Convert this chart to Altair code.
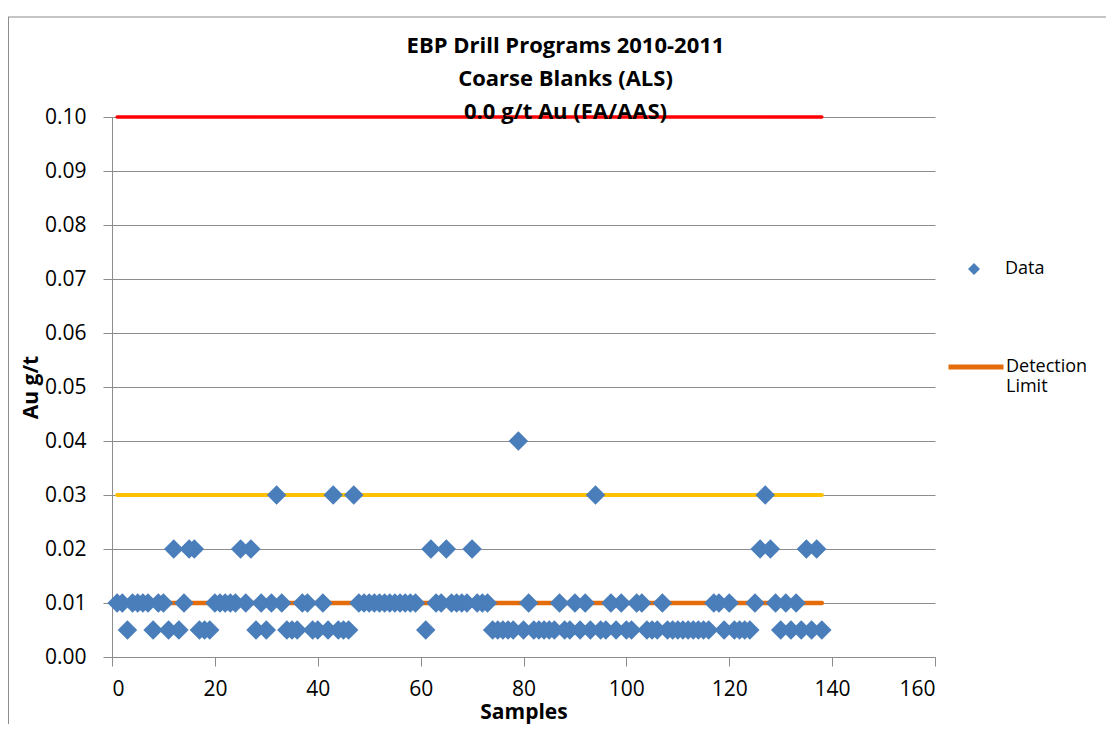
import altair as alt
import pandas as pd

FONT = "Open Sans"

# Sample numbers and Au values (g/t); None = no value plotted
samples = list(range(1, 139))
au_values = [
    0.01, 0.01, 0.005, 0.01, 0.01, 0.01, 0.01, 0.005, 0.01, 0.01,        # 1-10
    0.005, 0.02, 0.005, 0.01, 0.02, 0.02, 0.005, 0.005, 0.005, 0.01,     # 11-20
    0.01, 0.01, 0.01, 0.01, 0.02, 0.01, 0.02, 0.005, 0.01, 0.005,        # 21-30
    0.01, 0.03, 0.01, 0.005, 0.005, 0.005, 0.01, 0.01, 0.005, 0.005,     # 31-40
    0.01, 0.005, 0.03, 0.005, 0.005, 0.005, 0.03, 0.01, 0.01, 0.01,      # 41-50
    0.01, 0.01, 0.01, 0.01, 0.01, 0.01, 0.01, 0.01, 0.01, None,          # 51-60
    0.005, 0.02, 0.01, 0.01, 0.02, 0.01, 0.01, 0.01, 0.01, 0.02,         # 61-70
    0.01, 0.01, 0.01, 0.005, 0.005, 0.005, 0.005, 0.005, 0.04, 0.005,    # 71-80
    0.01, 0.005, 0.005, 0.005, 0.005, 0.005, 0.01, 0.005, 0.005, 0.01,   # 81-90
    0.005, 0.01, 0.005, 0.03, 0.005, 0.005, 0.01, 0.005, 0.01, 0.005,    # 91-100
    0.005, 0.01, 0.01, 0.005, 0.005, 0.005, 0.01, 0.005, 0.005, 0.005,   # 101-110
    0.005, 0.005, 0.005, 0.005, 0.005, 0.005, 0.01, 0.01, 0.005, 0.01,   # 111-120
    0.005, 0.005, 0.005, 0.005, 0.01, 0.02, 0.03, 0.02, 0.01, 0.005,     # 121-130
    0.01, 0.005, 0.01, 0.005, 0.02, 0.005, 0.02, 0.005,                  # 131-138
]

# Reference lines
line_x = [1, 138]
detection_y = [0.01, 0.01]
warning_y = [0.03, 0.03]
failure_y = [0.10, 0.10]

y_ticks = [0.0, 0.01, 0.02, 0.03, 0.04, 0.05, 0.06, 0.07, 0.08, 0.09, 0.10]
x_ticks = [0, 20, 40, 60, 80, 100, 120, 140, 160]

pts = pd.DataFrame({"x": samples, "y": au_values, "series": "Data"}).dropna()
det = pd.DataFrame({"x": line_x, "y": detection_y, "lname": "Detection Limit"})
warn = pd.DataFrame({"x": line_x, "y": warning_y})
fail = pd.DataFrame({"x": line_x, "y": failure_y})

xscale = alt.Scale(domain=[0, 160], nice=False, zero=False)
yscale = alt.Scale(domain=[0, 0.10], nice=False)

x_axis = alt.Axis(values=x_ticks, title="Samples", grid=False, tickSize=9,
                  labelPadding=12, titlePadding=2)
y_axis = alt.Axis(values=y_ticks, format=".2f", title="Au g/t", grid=True,
                  tickSize=9, labelPadding=17, titlePadding=3)

base_x = alt.X("x:Q", scale=xscale, axis=x_axis)
base_y = alt.Y("y:Q", scale=yscale, axis=y_axis)

red = alt.Chart(fail).mark_line(color="#FF0000", strokeWidth=3.5, strokeCap="round").encode(
    x=base_x, y=base_y)
yellow = alt.Chart(warn).mark_line(color="#FFC000", strokeWidth=4, strokeCap="round").encode(
    x="x:Q", y="y:Q")
orange = alt.Chart(det).mark_line(strokeWidth=4.5, strokeCap="round").encode(
    x="x:Q", y="y:Q",
    color=alt.Color("lname:N",
                    scale=alt.Scale(domain=["Detection Limit"], range=["#E46C0A"]),
                    legend=alt.Legend(orient="none", legendX=834, legendY=220, title=None,
                                      symbolType="stroke", symbolSize=3025,
                                      symbolStrokeWidth=5, labelFont=FONT,
                                      labelFontSize=18, labelColor="black",
                                      labelOffset=0, padding=0, labelLimit=300,
                                      labelExpr="datum.label == 'Detection Limit' ? ['Detection', '', 'Limit'] : datum.label")),
)
points = alt.Chart(pts).mark_point(shape="diamond", filled=True, size=380, opacity=1).encode(
    x="x:Q", y="y:Q",
    color=alt.Color("series:N",
                    scale=alt.Scale(domain=["Data"], range=["#4A7EBB"]),
                    legend=alt.Legend(orient="none", legendX=853, legendY=143, title=None,
                                      symbolType="diamond", symbolSize=144,
                                      symbolStrokeWidth=0, labelFont=FONT,
                                      labelFontSize=18, labelColor="black",
                                      labelOffset=22, padding=0)),
)

frame = alt.Chart(pd.DataFrame({"k": [0]})).mark_rule(color="#8C8C8C", strokeWidth=1).encode(
    x=alt.value(-104), x2=alt.value(994), y=alt.value(-100))
frame_left = alt.Chart(pd.DataFrame({"k": [0]})).mark_rule(color="#8C8C8C", strokeWidth=1).encode(
    x=alt.value(-103.5), y=alt.value(-100), y2=alt.value(620))

chart = alt.layer(frame, frame_left, red, yellow, orange, points).resolve_scale(
    color="independent"
).properties(
    width=823,
    height=540,
    autosize=alt.AutoSizeParams(type="none"),
    padding={"left": 104, "top": 109, "right": 171, "bottom": 67},
    title=alt.TitleParams(
        text=["EBP Drill Programs 2010-2011", "Coarse Blanks (ALS)", "0.0 g/t Au (FA/AAS)"],
        font=FONT, fontSize=22, fontWeight="bold", lineHeight=33, color="black",
        anchor="middle", dx=42, offset=-107,
    ),
).configure_view(stroke=None).configure_axis(
    labelFont=FONT, labelFontSize=21, labelColor="black",
    titleFont=FONT, titleFontSize=21, titleFontWeight="bold", titleColor="black",
    domainColor="#8C8C8C", tickColor="#8C8C8C", gridColor="#8C8C8C",
    domainWidth=1, tickWidth=1, gridWidth=1,
)

chart.save("out.html", embed_options={"renderer": "svg", "actions": False})
